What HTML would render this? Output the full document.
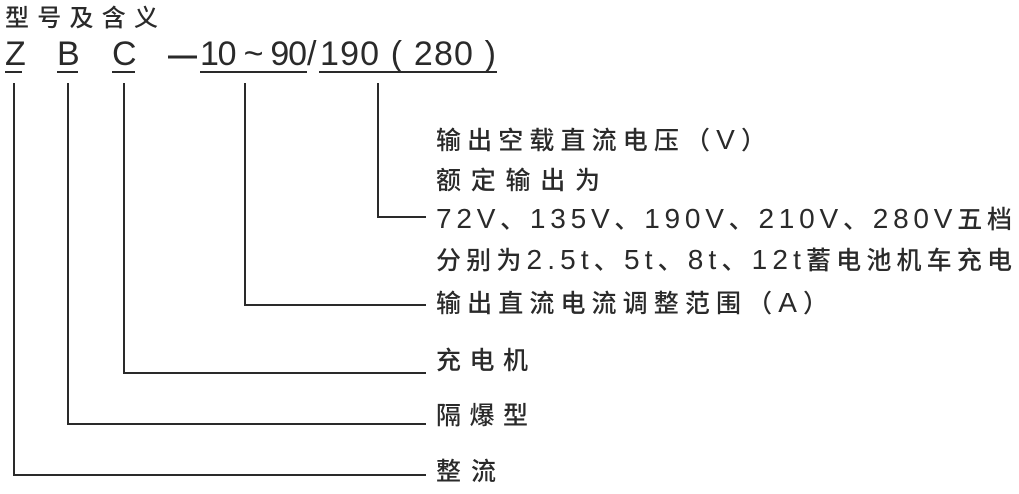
<!DOCTYPE html>
<html><head><meta charset="utf-8"><style>
html,body{margin:0;padding:0;background:#fff;}
svg{display:block;}
text{font-family:"Liberation Sans","Noto Sans CJK SC",sans-serif;fill:#2a2a2a;}
.c{font-weight:500;font-family:"Noto Sans CJK SC",sans-serif;}
.l{font-family:"Liberation Sans",sans-serif;font-size:28px;font-weight:normal;}
</style></head><body>
<svg width="1019" height="494" viewBox="0 0 1019 494" xmlns="http://www.w3.org/2000/svg">
<text class="c" x="5" y="26" font-size="24" textLength="153" lengthAdjust="spacing">型号及含义</text>
<g font-size="34" lengthAdjust="spacingAndGlyphs">
<text x="5" y="65" textLength="17">Z</text>
<text x="57" y="65" textLength="21">B</text>
<text x="112" y="65" textLength="23">C</text>
<text x="200" y="65" textLength="107">10 ~ 90</text>
<text x="307" y="65" textLength="11">/</text>
<text x="320" y="65" textLength="176">190 ( 280 )</text>
</g>
<g stroke="#2a2a2a" stroke-width="2" fill="none">
<line x1="168" y1="57" x2="197" y2="57" stroke-width="3"/>
<line x1="5" y1="72" x2="22" y2="72"/>
<line x1="57" y1="72" x2="78" y2="72"/>
<line x1="112" y1="72" x2="135" y2="72"/>
<line x1="200" y1="72" x2="307" y2="72"/>
<line x1="319" y1="72" x2="497" y2="72"/>
<polyline points="378,83 378,217 426,217"/>
<polyline points="245,83 245,305 426,305"/>
<polyline points="124,83 124,373 426,373"/>
<polyline points="68,83 68,424 426,424"/>
<polyline points="14,83 14,475 426,475"/>
</g>
<g class="c" font-size="25" lengthAdjust="spacing">
<text x="436" y="149" textLength="330">输出空载直流电压（<tspan class="l">V</tspan>）</text>
<text x="436" y="189" textLength="164">额定输出为</text>
<text x="436" y="228" textLength="576"><tspan class="l">72V</tspan>、<tspan class="l">135V</tspan>、<tspan class="l">190V</tspan>、<tspan class="l">210V</tspan>、<tspan class="l">280V</tspan>五档</text>
<text x="436" y="269" textLength="576">分别为<tspan class="l">2.5t</tspan>、<tspan class="l">5t</tspan>、<tspan class="l">8t</tspan>、<tspan class="l">12t</tspan>蓄电池机车充电</text>
<text x="436" y="312" textLength="392">输出直流电流调整范围（<tspan class="l">A</tspan>）</text>
<text x="436" y="369" textLength="92">充电机</text>
<text x="436" y="424" textLength="92">隔爆型</text>
<text x="436" y="480" textLength="60">整流</text>
</g>
</svg>
</body></html>
